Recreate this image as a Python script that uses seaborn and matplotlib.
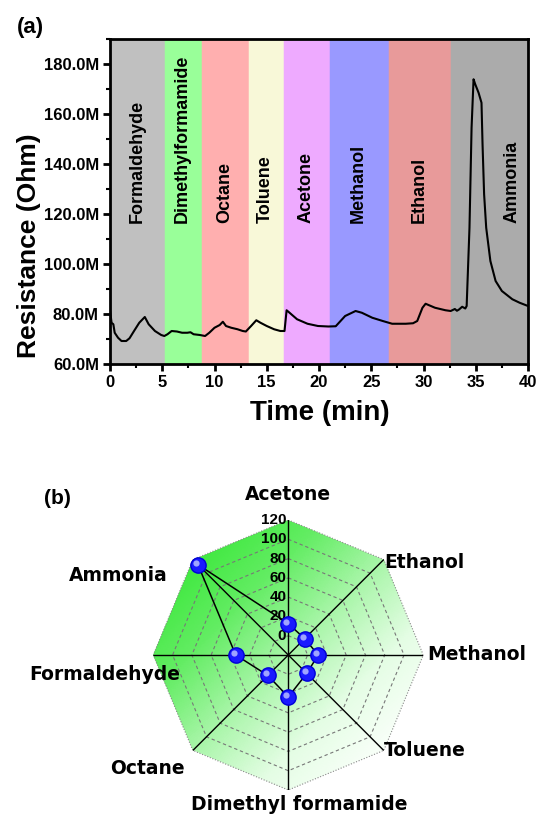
"""
Gas sensor response: resistance transient (a) and radar plot of response (b)
"""
import numpy as np
import matplotlib
matplotlib.use("Agg")
import matplotlib.pyplot as plt
from matplotlib.colors import LinearSegmentedColormap
from matplotlib.transforms import offset_copy
import seaborn as sns

sns.set_style("ticks")
plt.rcParams["font.family"] = ["Liberation Sans", "DejaVu Sans"]
plt.rcParams["font.weight"] = "bold"
for key in ["text.color", "axes.labelcolor", "xtick.color", "ytick.color", "axes.edgecolor"]:
    plt.rcParams[key] = "black"

# ---- data: panel (a) ----
gases = ["Formaldehyde", "Dimethylformamide", "Octane", "Toluene",
         "Acetone", "Methanol", "Ethanol", "Ammonia"]
band_edges = [0, 5.15, 8.7, 13.2, 16.6, 21.0, 26.6, 32.5, 40.0]
band_colors = ["#c0c0c0", "#99ff99", "#ffafaf", "#f8f8d8",
               "#eeaaff", "#9999ff", "#e89a9a", "#ababab"]

time_min = [0.0, 0.15, 0.32, 0.45, 0.77, 1.1, 1.55, 1.87, 2.3, 2.8, 3.33, 3.7,
            4.3, 4.9, 5.2, 5.5, 5.9, 6.4, 6.9, 7.4, 7.7, 8.0, 8.6, 9.1, 9.5,
            10.0, 10.5, 10.8, 11.1, 11.6, 12.2, 12.7, 13.0, 13.5, 14.0, 14.4,
            15.0, 15.7, 16.3, 16.7, 16.9, 17.1, 17.9, 18.9, 19.9, 20.9, 21.6,
            22.5, 23.5, 24.1, 25.1, 26.1, 27.0, 28.3, 29.0, 29.4, 29.9, 30.2,
            31.1, 32.1, 32.6, 33.0, 33.2, 33.4, 33.7, 34.0, 34.13, 34.4, 34.6,
            34.79, 34.95, 35.27, 35.55, 35.65, 35.8, 36.0, 36.4, 36.9, 37.5,
            38.5, 39.2, 40.0]
resistance_M = [81.5, 76.5, 75.9, 72.5, 70.5, 69.2, 69.2, 70.3, 73.2, 76.5, 78.8,
                75.9, 73.2, 71.6, 71.2, 71.9, 73.2, 73.0, 72.5, 72.5, 72.7, 71.9,
                71.6, 71.2, 72.5, 74.5, 75.6, 76.9, 75.2, 74.5, 73.9, 73.2, 73.0,
                75.2, 77.5, 76.5, 75.2, 73.9, 73.2, 73.2, 81.5, 80.8, 77.9, 76.1,
                75.2, 75.0, 75.1, 79.2, 81.2, 80.5, 78.5, 77.2, 76.1, 76.1, 76.3,
                77.2, 82.5, 84.1, 82.5, 81.5, 81.2, 82.0, 81.3, 81.8, 82.9, 82.2,
                83.2, 114.5, 154.5, 173.9, 171.9, 168.5, 164.5, 147.9, 127.9,
                114.5, 101.2, 93.2, 89.2, 85.9, 84.5, 83.2]

# ---- data: panel (b) ----
radar_labels = ["Acetone", "Ethanol", "Methanol", "Toluene",
                "Dimethyl formamide", "Octane", "Formaldehyde", "Ammonia"]
response = [12.5, 4.0, 11.0, 7.0, 23.5, 10.0, 34.5, 112.5]
r_ticks = [0, 20, 40, 60, 80, 100, 120]

W, H = 539, 815
fig = plt.figure(figsize=(W / 100, H / 100), dpi=100)

# ================= panel (a) =================
ax = fig.add_axes([110 / W, 1 - 364 / H, 418 / W, 325 / H])
for i, name in enumerate(gases):
    ax.axvspan(band_edges[i], band_edges[i + 1], color=band_colors[i], lw=0, zorder=0)
    ax.axvline(band_edges[i + 1], color=band_colors[i], lw=1.2, zorder=0.5,
               alpha=0.9)
    xc = (band_edges[i] + band_edges[i + 1]) / 2
    if name == "Ammonia":
        xc = 38.5  # label pushed right of the peak
    ax.text(xc, 116.5, name, rotation=90, ha="center", va="bottom",
            fontsize=13, fontweight="bold", color="black", zorder=3)

sns.lineplot(x=time_min, y=resistance_M, color="black", lw=1.5, ax=ax,
             zorder=4, sort=False)

ax.set_xlim(0, 40)
ax.set_ylim(60, 190)
ax.set_xticks(range(0, 41, 5))
ax.set_xticks(np.arange(2.5, 40, 5), minor=True)
ax.set_yticks(range(60, 181, 20))
ax.set_yticks(range(70, 191, 20), minor=True)
ax.set_yticklabels([f"{v:.1f}M" for v in range(60, 181, 20)])
ax.tick_params(axis="both", which="major", direction="out", length=5, width=2,
               labelsize=12, pad=3, colors="black")
ax.tick_params(axis="both", which="minor", direction="out", length=3, width=1.5,
               colors="black")
for lab in ax.get_xticklabels() + ax.get_yticklabels():
    lab.set_fontweight("bold")
for sp in ax.spines.values():
    sp.set_linewidth(2)
    sp.set_color("black")
    sp.set_visible(True)
ax.set_xlabel("Time (min)", fontsize=20, fontweight="bold")
ax.set_ylabel("Resistance (Ohm)", fontsize=19, fontweight="bold")
ax.xaxis.set_label_coords(0.502, -0.11)
ax.yaxis.set_label_coords(-0.165, 0.365)
fig.text(17 / W, 1 - 27 / H, "(a)", fontsize=16, fontweight="bold", va="center")

# ================= panel (b) =================
R_in, R_out = -20, 120
pax = fig.add_axes([153.3 / W, 1 - 790 / H, 270 / W, 270 / H], projection="polar")
pax.set_theta_offset(np.pi / 2)
pax.set_theta_direction(-1)
pax.set_ylim(R_in, R_out)
pax.grid(False)
pax.set_xticks([])
pax.set_yticks([])
pax.spines["polar"].set_visible(False)
pax.patch.set_alpha(0)

n = len(radar_labels)
theta = np.arange(n) * 2 * np.pi / n
theta_c = np.append(theta, theta[0])

# green gradient fill, clipped to the outer octagon
T, Rg = np.meshgrid(np.linspace(0, 2 * np.pi, 361), np.linspace(R_in, R_out, 120))
ang = np.pi / 2 - T
X = (Rg - R_in) * np.cos(ang)
Y = (Rg - R_in) * np.sin(ang)
shade = (Y - X) / (2 * (R_out - R_in))
cmap = LinearSegmentedColormap.from_list(
    "g", ["#fbfffb", "#e4fde4", "#a8f5a8", "#62ec62", "#3ce83c"])
mesh = pax.pcolormesh(T, Rg, shade, cmap=cmap, vmin=-0.75, vmax=0.75,
                      shading="auto", zorder=0)
octagon = plt.Polygon(np.column_stack([theta, [R_out] * n]), closed=True,
                      transform=pax.transData)
mesh.set_clip_path(octagon)

# grid rings
for v in r_ticks[:-1]:
    pax.plot(theta_c, [v] * (n + 1), color="#777777", lw=0.8, ls=(0, (3, 2.5)), zorder=1)
pax.plot(theta_c, [R_out] * (n + 1), color="#888888", lw=0.8, ls=(0, (1, 1.5)), zorder=1)
# spokes
for th in theta:
    pax.plot([th, th], [R_in, R_out], color="black", lw=1.0, zorder=2)

# radial labels on the vertical spoke
for v in r_ticks:
    pax.annotate(str(v), xy=(0, v), xytext=(-2, 0), textcoords="offset pixels",
                 ha="right", va="center", fontsize=11, fontweight="bold",
                 color="black", zorder=3)

# data polygon and markers
resp_c = np.append(response, response[0])
pax.plot(theta_c, resp_c, color="black", lw=1.1, zorder=4)
pax.plot(theta, response, "o", ms=11, mfc="#1a1aff", mec="#0000d8", mew=1, zorder=5)
hl = offset_copy(pax.transData, fig=fig, x=-2, y=2, units="dots")
pax.plot(theta, response, "o", ms=4.5, color="#9fa4ff", mew=0, zorder=6, transform=hl)

# category labels around the octagon
label_offsets = {
    "Acetone": (0, 26, "center"),
    "Ethanol": (0, -3, "left"),
    "Methanol": (4, 0, "left"),
    "Toluene": (0, 0, "left"),
    "Dimethyl formamide": (11, -14, "center"),
    "Octane": (-8, -18, "right"),
    "Formaldehyde": (27, -19, "right"),
    "Ammonia": (-25, -16, "right"),
}
for th, name in zip(theta, radar_labels):
    dx, dy, ha = label_offsets[name]
    pax.annotate(name, xy=(th, R_out), xytext=(dx, dy), textcoords="offset pixels",
                 ha=ha, va="center", fontsize=13.5, fontweight="bold",
                 family=["DejaVu Sans"], color="black", zorder=7,
                 annotation_clip=False)

fig.text(44 / W, 1 - 499 / H, "(b)", fontsize=15, fontweight="bold", va="center")

fig.savefig("out.png", dpi=100)
